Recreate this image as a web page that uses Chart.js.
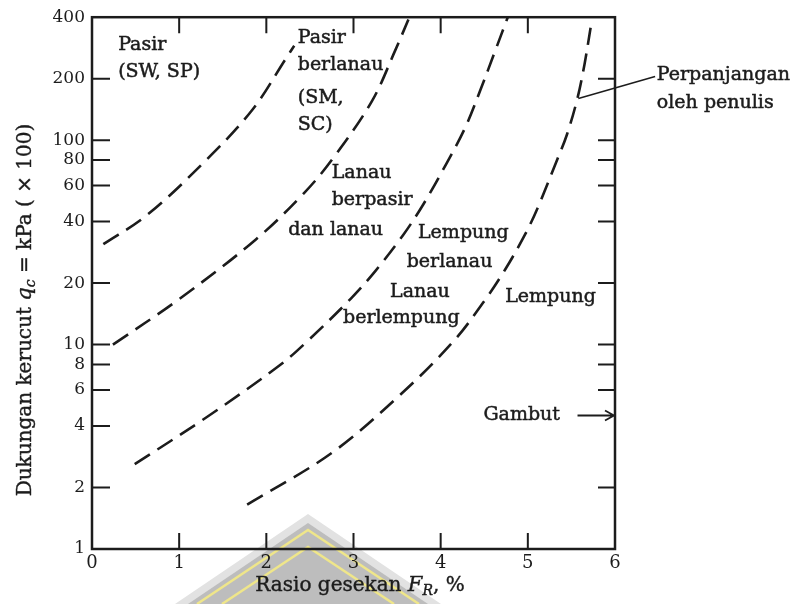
<!DOCTYPE html>
<html>
<head>
<meta charset="utf-8">
<script src="https://cdn.jsdelivr.net/npm/chart.js@4.4.0/dist/chart.umd.min.js"></script>
<style>
html, body { margin: 0; padding: 0; background: #fff; }
</style>
</head>
<body>
<canvas id="soilChart" width="805" height="604"></canvas>
<script>
// boundary curves: x = rasio gesekan F_R (%), y = q_c (kPa x 100)
var sandX = [0.13, 0.63, 1.31, 1.84, 2.23, 2.32];
var sandY = [31, 43, 80, 141, 253, 290];
var siltySandX = [0.24, 1.0, 1.88, 2.43, 2.75, 3.21, 3.48, 3.63];
var siltySandY = [10, 16.7, 32.7, 55, 80, 155, 276, 390];
var sandySiltX = [0.49, 1.31, 2.15, 2.45, 2.97, 3.25, 3.57, 3.80, 4.06, 4.28, 4.46, 4.62, 4.77];
var sandySiltY = [2.6, 4.4, 7.9, 10.2, 16.8, 22.9, 34.4, 48.5, 76, 115, 178, 270, 400];
var clayX = [1.78, 2.75, 3.52, 4.14, 4.49, 4.74, 4.97, 5.11, 5.34, 5.45, 5.57, 5.65, 5.72];
var clayY = [1.65, 2.95, 5.6, 10.3, 16.1, 23.3, 34.7, 46.4, 81, 107, 161, 235, 355];

var xTicks = [0, 1, 2, 3, 4, 5, 6];
var yTicks = [1, 2, 4, 6, 8, 10, 20, 40, 60, 80, 100, 200, 400];
var rightTicks = [2, 6, 8, 10, 20, 40, 60, 80, 100, 200];

// zone names, anchored in data units (left edge, middle of line)
var zoneLabels = [
    { text: 'Pasir', x: 0.30, y: 292 },
    { text: '(SW, SP)', x: 0.30, y: 215 },
    { text: 'Pasir', x: 2.36, y: 315 },
    { text: 'berlanau', x: 2.36, y: 233 },
    { text: '(SM,', x: 2.36, y: 160 },
    { text: 'SC)', x: 2.36, y: 118 },
    { text: 'Lanau', x: 2.75, y: 69 },
    { text: 'berpasir', x: 2.75, y: 51 },
    { text: 'dan lanau', x: 2.25, y: 36.3 },
    { text: 'Lempung', x: 3.74, y: 35 },
    { text: 'berlanau', x: 3.61, y: 25.3 },
    { text: 'Lanau', x: 3.42, y: 18.1 },
    { text: 'berlempung', x: 2.88, y: 13.5 },
    { text: 'Lempung', x: 4.74, y: 17.1 },
    { text: 'Gambut', x: 4.49, y: 4.5 },
    { text: 'Perpanjangan', x: 6.48, y: 208 },
    { text: 'oleh penulis', x: 6.48, y: 152 }
];

var SERIF = '"DejaVu Serif", "Liberation Serif", serif';
var INK = '#1c1c1c';

function pts(xs, ys) {
    return xs.map(function (x, i) { return { x: x, y: ys[i] }; });
}

function curve(xs, ys) {
    return {
        data: pts(xs, ys),
        borderColor: INK,
        borderWidth: 2.6,
        borderDash: [18, 9],
        pointRadius: 0,
        fill: false,
        tension: 0.35
    };
}

// text made of pieces (italic / subscript), centred on 0,0
function richText(ctx, parts) {
    var total = 0;
    parts.forEach(function (p) { ctx.font = p.font; total += ctx.measureText(p.t).width; });
    var x = -total / 2;
    parts.forEach(function (p) {
        ctx.font = p.font;
        ctx.fillText(p.t, x, p.dy || 0);
        ctx.strokeText(p.t, x, p.dy || 0);
        x += ctx.measureText(p.t).width;
    });
}

var watermark = {
    id: 'watermark',
    beforeDraw: function (chart) {
        var ctx = chart.ctx;
        ctx.save();
        ctx.fillStyle = '#e2e2e2';
        ctx.beginPath();
        ctx.moveTo(308, 514); ctx.lineTo(175, 604); ctx.lineTo(441, 604); ctx.closePath();
        ctx.fill();
        ctx.fillStyle = '#bdbdbd';
        ctx.beginPath();
        ctx.moveTo(308, 523); ctx.lineTo(188, 604); ctx.lineTo(428, 604); ctx.closePath();
        ctx.fill();
        ctx.strokeStyle = '#efe68a';
        ctx.lineWidth = 2.5;
        ctx.beginPath();
        ctx.moveTo(197, 604); ctx.lineTo(308, 530); ctx.lineTo(419, 604);
        ctx.moveTo(222, 604); ctx.lineTo(308, 547); ctx.lineTo(394, 604);
        ctx.stroke();
        ctx.restore();
    }
};

var decor = {
    id: 'decor',
    afterDraw: function (chart) {
        var ctx = chart.ctx;
        var a = chart.chartArea;
        var xs = chart.scales.x, ys = chart.scales.y;
        ctx.save();

        // frame
        ctx.strokeStyle = INK;
        ctx.lineWidth = 2.5;
        ctx.strokeRect(a.left, a.top, a.right - a.left, a.bottom - a.top);

        // inward tick marks
        ctx.lineWidth = 2;
        ctx.beginPath();
        yTicks.forEach(function (v) {
            if (v === 1 || v === 400) return;
            var py = ys.getPixelForValue(v);
            ctx.moveTo(a.left, py); ctx.lineTo(a.left + 18, py);
        });
        rightTicks.forEach(function (v) {
            var py = ys.getPixelForValue(v);
            ctx.moveTo(a.right - 17, py); ctx.lineTo(a.right, py);
        });
        xTicks.forEach(function (v) {
            if (v === 0 || v === 6) return;
            var px = xs.getPixelForValue(v);
            ctx.moveTo(px, a.top); ctx.lineTo(px, a.top + 16);
            ctx.moveTo(px, a.bottom); ctx.lineTo(px, a.bottom - 16);
        });
        ctx.stroke();

        // zone labels
        ctx.fillStyle = INK;
        ctx.strokeStyle = INK;
        ctx.lineWidth = 0.5;
        ctx.font = '19px ' + SERIF;
        ctx.textBaseline = 'middle';
        ctx.textAlign = 'left';
        zoneLabels.forEach(function (l) {
            var px = xs.getPixelForValue(l.x), py = ys.getPixelForValue(l.y);
            ctx.fillText(l.text, px, py);
            ctx.strokeText(l.text, px, py);
        });

        // Gambut arrow
        var gy = ys.getPixelForValue(4.5);
        var g0 = xs.getPixelForValue(5.57), g1 = xs.getPixelForValue(6);
        ctx.lineWidth = 1.8;
        ctx.beginPath();
        ctx.moveTo(g0, gy); ctx.lineTo(g1 - 2, gy);
        ctx.moveTo(g1 - 10, gy - 5); ctx.lineTo(g1 - 1, gy); ctx.lineTo(g1 - 10, gy + 5);
        ctx.stroke();

        // leader line to "Perpanjangan oleh penulis"
        ctx.lineWidth = 1.5;
        ctx.beginPath();
        ctx.moveTo(xs.getPixelForValue(5.58), ys.getPixelForValue(160));
        ctx.lineTo(xs.getPixelForValue(6.46), ys.getPixelForValue(205));
        ctx.stroke();

        // axis titles
        ctx.lineWidth = 0.4;
        ctx.save();
        ctx.translate(26, 310);
        ctx.rotate(-Math.PI / 2);
        richText(ctx, [
            { t: 'Dukungan kerucut ', font: '20px ' + SERIF },
            { t: 'q', font: 'italic 21px ' + SERIF },
            { t: 'c', font: 'italic 14px ' + SERIF, dy: 5 },
            { t: ' = kPa ( \u00d7 100)', font: '20px ' + SERIF }
        ]);
        ctx.restore();

        ctx.save();
        ctx.translate(360, 586);
        richText(ctx, [
            { t: 'Rasio gesekan ', font: '20px ' + SERIF },
            { t: 'F', font: 'italic 21px ' + SERIF },
            { t: 'R', font: 'italic 14px ' + SERIF, dy: 5 },
            { t: ', %', font: '20px ' + SERIF }
        ]);
        ctx.restore();

        ctx.restore();
    }
};

var ctx = document.getElementById('soilChart').getContext('2d');
var chart = new Chart(ctx, {
    type: 'line',
    data: {
        datasets: [
            curve(sandX, sandY),
            curve(siltySandX, siltySandY),
            curve(sandySiltX, sandySiltY),
            curve(clayX, clayY)
        ]
    },
    options: {
        responsive: false,
        animation: false,
        layout: { padding: { top: 17, right: 190, left: 0, bottom: 0 } },
        plugins: { legend: { display: false }, tooltip: { enabled: false } },
        scales: {
            x: {
                type: 'linear',
                min: 0,
                max: 6,
                afterBuildTicks: function (s) { s.ticks = xTicks.map(function (v) { return { value: v }; }); },
                ticks: { color: INK, font: { family: SERIF, size: 18 }, padding: 4, maxRotation: 0 },
                grid: { display: false, drawTicks: false },
                border: { display: false },
                afterFit: function (s) { s.height = 55; }
            },
            y: {
                type: 'logarithmic',
                min: 1,
                max: 400,
                afterBuildTicks: function (s) { s.ticks = yTicks.map(function (v) { return { value: v }; }); },
                ticks: {
                    color: INK,
                    font: { family: SERIF, size: 17 },
                    padding: 7,
                    callback: function (v) { return String(v); }
                },
                grid: { display: false, drawTicks: false },
                border: { display: false },
                afterFit: function (s) { s.width = 92; }
            }
        }
    },
    plugins: [watermark, decor]
});
</script>
</body>
</html>
